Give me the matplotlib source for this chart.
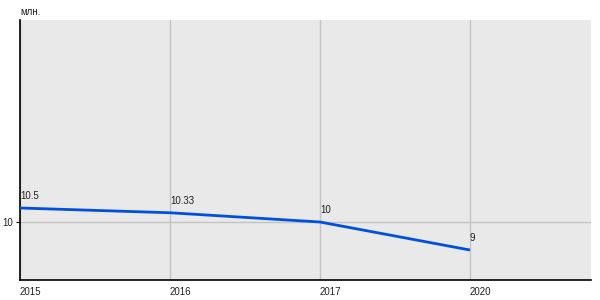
import matplotlib
matplotlib.use("Agg")
import matplotlib.pyplot as plt

plt.rcParams["font.family"] = ["Liberation Sans", "DejaVu Sans"]

# данные графика
years = ["2015", "2016", "2017", "2020"]
values = [10.5, 10.33, 10.0, 9.0]
value_labels = ["10.5", "10.33", "10", "9"]
y_ticks = [10]

fig = plt.figure(figsize=(6, 3), dpi=100)
ax = fig.add_axes([20 / 600, 20 / 300, 571 / 600, 260 / 300])
ax.set_facecolor("#e9e9e9")

x = list(range(len(years)))
ax.plot(x, values, color="#0050e0", linewidth=2, solid_capstyle="butt", zorder=3)

for xi, v, lab in zip(x, values, value_labels):
    ax.annotate(lab, (xi, v), xytext=(0, 5), textcoords="offset points",
                ha="left", va="bottom", fontsize=7, color="#222222")

ax.set_xlim(0, 3.807)
ax.set_ylim(7.93, 17.21)
ax.set_xticks(x)
ax.set_xticklabels(years, ha="left", fontsize=7, color="#222222")
ax.set_yticks(y_ticks)
ax.set_yticklabels([str(t) for t in y_ticks], fontsize=7, color="#222222")
ax.tick_params(axis="x", length=0, pad=5)
ax.tick_params(axis="y", length=3, width=0.8, pad=2)
ax.grid(True, color="#c4c4c4", linewidth=1)
ax.set_axisbelow(True)

for side in ["top", "right"]:
    ax.spines[side].set_visible(False)
for side in ["left", "bottom"]:
    ax.spines[side].set_color("black")
    ax.spines[side].set_linewidth(1.2)

fig.text(20 / 600, 1 - 12 / 300, "млн.", fontsize=7, color="#222222",
         ha="left", va="center")

fig.savefig("out.png", dpi=100)
